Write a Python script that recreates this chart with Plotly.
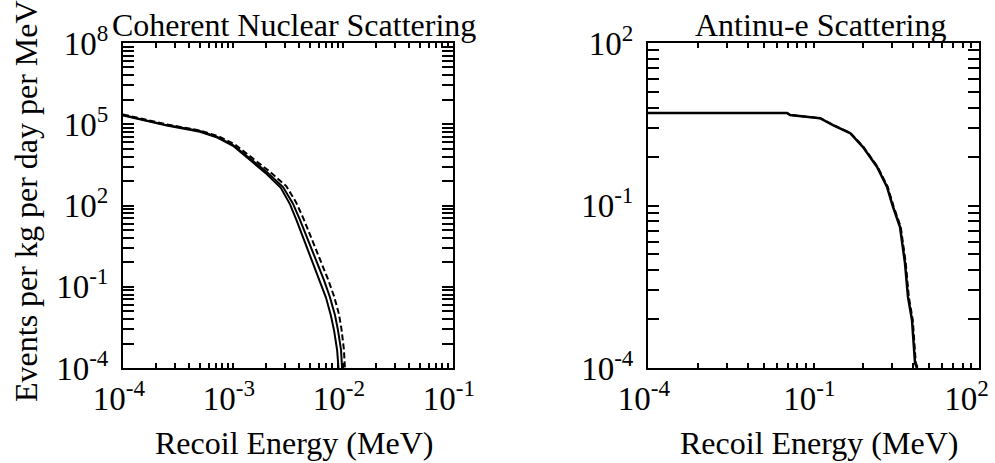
import plotly.graph_objects as go

# ---------------- data ----------------
# Coherent nuclear scattering: three spectra (two solid, one dashed)
coh_a_energy = [1.0e-4, 2.5e-4, 5.0e-4, 7.2e-4, 1.0e-3, 1.4e-3, 1.97e-3, 2.72e-3, 3.3e-3,
                3.8e-3, 4.45e-3, 5.35e-3, 6.15e-3, 7.0e-3, 7.75e-3, 8.3e-3, 8.85e-3, 9.1e-3, 9.15e-3]
coh_a_rate = [2.1e5, 8.9e4, 5.3e4, 3.2e4, 1.6e4, 5.0e3, 1.6e3, 4.5e2, 1.1e2,
              2.7e1, 5.0, 7.0e-1, 1.7e-1, 4.0e-2, 8.8e-3, 2.4e-3, 4.5e-4, 1.0e-4, 1.0e-5]

coh_b_energy = [1.0e-4, 2.5e-4, 5.0e-4, 7.2e-4, 1.0e-3, 1.43e-3, 2.04e-3, 2.85e-3, 3.5e-3,
                4.07e-3, 4.8e-3, 5.8e-3, 6.7e-3, 7.6e-3, 8.45e-3, 9.0e-3, 9.6e-3, 9.8e-3, 9.85e-3]
coh_b_rate = [2.2e5, 9.3e4, 5.6e4, 3.4e4, 1.7e4, 5.2e3, 1.7e3, 4.8e2, 1.2e2,
              2.9e1, 5.4, 7.6e-1, 1.8e-1, 4.2e-2, 9.1e-3, 2.5e-3, 4.6e-4, 1.0e-4, 1.0e-5]

coh_c_energy = [1.0e-4, 2.5e-4, 5.0e-4, 7.4e-4, 1.04e-3, 1.5e-3, 2.15e-3, 3.05e-3, 3.75e-3,
                4.4e-3, 5.2e-3, 6.3e-3, 7.3e-3, 8.3e-3, 9.2e-3, 9.7e-3, 1.02e-2, 1.04e-2, 1.045e-2]
coh_c_rate = [2.3e5, 9.8e4, 5.9e4, 3.6e4, 1.8e4, 5.5e3, 1.8e3, 5.2e2, 1.3e2,
              3.1e1, 5.8, 8.2e-1, 1.9e-1, 4.4e-2, 9.5e-3, 2.6e-3, 4.7e-4, 1.0e-4, 1.0e-5]

# Antineutrino-electron scattering (solid + dashed, nearly coincident)
nue_energy = [1.0e-4, 3.3e-2, 3.75e-2, 7.6e-2, 0.131, 0.225, 0.458, 0.789, 1.42,
              2.15, 2.76, 3.70, 4.55, 5.16, 6.10, 6.92, 7.5, 7.55]
nue_rate = [5.1, 5.1, 4.7, 4.3, 4.1, 3.06, 2.18, 1.2, 0.514,
            0.22, 0.094, 0.040, 8.7e-3, 2.05e-3, 7.7e-4, 1.24e-4, 1.0e-4, 1.0e-5]
nue2_energy = [1.0e-4, 3.3e-2, 3.8e-2, 7.8e-2, 0.134, 0.23, 0.47, 0.81, 1.46,
               2.22, 2.85, 3.82, 4.7, 5.35, 6.3, 7.15, 7.8, 7.85]
nue2_rate = [5.1, 5.1, 4.7, 4.3, 4.1, 3.06, 2.18, 1.2, 0.514,
             0.22, 0.094, 0.040, 8.7e-3, 2.05e-3, 7.7e-4, 1.24e-4, 1.0e-4, 1.0e-5]

NB = "\u00a0"
coh_x_ticks = [1e-4, 1e-3, 1e-2, 1e-1]
coh_x_text = ["10<sup>-4</sup>" + NB, "10<sup>-3</sup>" + NB, "10<sup>-2</sup>" + NB, "10<sup>-1</sup>" + NB]
coh_y_ticks = [1e-4, 1e-1, 1e2, 1e5, 1e8]
coh_y_text = ["10<sup>-4</sup>", "10<sup>-1</sup>", "10<sup>2</sup>", "10<sup>5</sup>", "10<sup>8</sup>"]
nue_x_ticks = [1e-4, 1e-1, 1e2]
nue_x_text = ["10<sup>-4</sup>" + NB, "10<sup>-1</sup>" + NB, "10<sup>2</sup>" + NB * 3]
nue_y_ticks = [1e-4, 1e-1, 1e2]
nue_y_text = ["10<sup>-4</sup>", "10<sup>-1</sup>", "10<sup>2</sup>"]

# ---------------- figure ----------------
W, H = 995, 463
FONT = "Liberation Serif"


def px_x(p):
    return p / W


def px_y(p):
    return 1 - p / H


def minor_decade(lo, hi):
    # standard 2..9 minor ticks within each decade
    vals = []
    for e in range(lo, hi):
        for k in range(2, 10):
            vals.append(k * 10.0 ** e)
    return vals


def minor_triple(lo, hi):
    # minor ticks placed as log(k) fractions of each 3-decade interval
    vals = []
    for e in range(lo, hi, 3):
        for k in range(2, 10):
            vals.append(10.0 ** e * k ** 3)
    return vals


fig = go.Figure()
line = dict(color="black", width=2)
fig.add_trace(go.Scatter(x=coh_a_energy, y=coh_a_rate, mode="lines", line=line,
                         xaxis="x", yaxis="y", showlegend=False))
fig.add_trace(go.Scatter(x=coh_b_energy, y=coh_b_rate, mode="lines", line=line,
                         xaxis="x", yaxis="y", showlegend=False))
fig.add_trace(go.Scatter(x=coh_c_energy, y=coh_c_rate, mode="lines",
                         line=dict(color="black", width=2, dash="6px,3px"),
                         xaxis="x", yaxis="y", showlegend=False))
fig.add_trace(go.Scatter(x=nue_energy, y=nue_rate, mode="lines",
                         line=dict(color="black", width=2.5),
                         xaxis="x2", yaxis="y2", showlegend=False))
fig.add_trace(go.Scatter(x=nue2_energy, y=nue2_rate, mode="lines",
                         line=dict(color="black", width=2, dash="6px,3px"),
                         xaxis="x2", yaxis="y2", showlegend=False))

tickfont = dict(family=FONT, size=33, color="black")
common = dict(type="log", showgrid=False, zeroline=False, showline=True, linecolor="black",
              linewidth=2, mirror="allticks", ticks="inside", tickcolor="black", tickwidth=2,
              tickfont=tickfont, automargin=False, ticklabeloverflow="allow")
xminor = dict(ticks="inside", ticklen=5, tickcolor="black", tickwidth=2)
yminor = dict(ticks="inside", ticklen=11, tickcolor="black", tickwidth=2)

fig.update_layout(
    width=W, height=H, margin=dict(l=0, r=0, t=0, b=0),
    paper_bgcolor="white", plot_bgcolor="white",
    font=dict(family=FONT, size=32, color="black"),
    xaxis=dict(common, domain=[px_x(123), px_x(453)], range=[-4, -1], anchor="y",
               tickvals=coh_x_ticks, ticktext=coh_x_text, ticklen=5,
               minor=dict(xminor, tickvals=minor_decade(-4, -1))),
    yaxis=dict(common, domain=[px_y(368), px_y(43)], range=[-4, 8], anchor="x",
               tickvals=coh_y_ticks, ticktext=coh_y_text, ticklen=11, ticklabelstandoff=6,
               minor=dict(yminor, tickvals=minor_triple(-4, 8))),
    xaxis2=dict(common, domain=[px_x(648), px_x(979)], range=[-4, 2], anchor="y2",
                tickvals=nue_x_ticks, ticktext=nue_x_text, ticklen=5,
                minor=dict(xminor, tickvals=minor_triple(-4, 2))),
    yaxis2=dict(common, domain=[px_y(368), px_y(43)], range=[-4, 2], anchor="x2",
                tickvals=nue_y_ticks, ticktext=nue_y_text, ticklen=11, ticklabelstandoff=6,
                minor=dict(yminor, tickvals=minor_triple(-4, 2))),
    annotations=[
        dict(text="Coherent Nuclear Scattering", x=px_x(294), y=px_y(25), xref="paper", yref="paper",
             xanchor="center", yanchor="middle", showarrow=False, font=dict(family=FONT, size=32)),
        dict(text="Antinu-e Scattering", x=px_x(820), y=px_y(25), xref="paper", yref="paper",
             xanchor="center", yanchor="middle", showarrow=False, font=dict(family=FONT, size=32)),
        dict(text="Recoil Energy (MeV)", x=px_x(294), y=px_y(443), xref="paper", yref="paper",
             xanchor="center", yanchor="middle", showarrow=False, font=dict(family=FONT, size=32)),
        dict(text="Recoil Energy (MeV)", x=px_x(819), y=px_y(443), xref="paper", yref="paper",
             xanchor="center", yanchor="middle", showarrow=False, font=dict(family=FONT, size=32)),
        dict(text="Events per kg per day per MeV", x=px_x(26), y=px_y(201), xref="paper", yref="paper",
             xanchor="center", yanchor="middle", textangle=-90, showarrow=False,
             font=dict(family=FONT, size=32)),
    ],
)

fig.write_html("out.html")
